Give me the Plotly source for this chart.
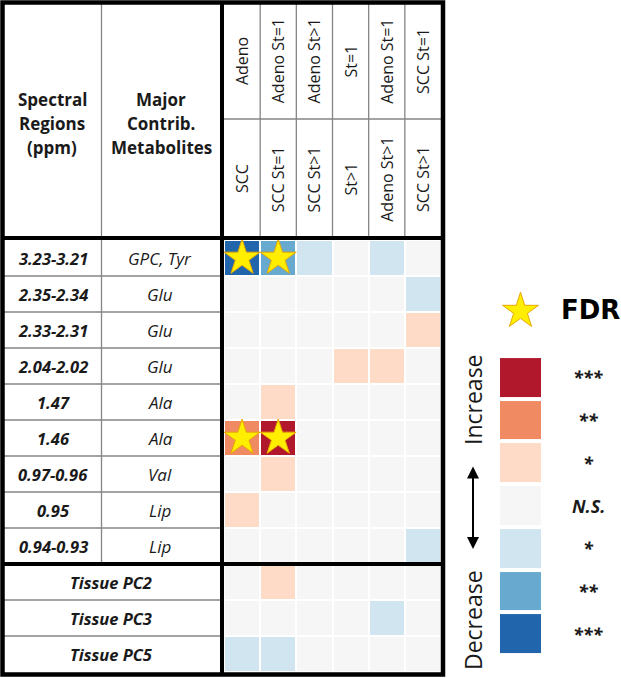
import plotly.graph_objects as go

W, H = 621, 678

# ---- data ----
regions = ["3.23-3.21", "2.35-2.34", "2.33-2.31", "2.04-2.02", "1.47", "1.46",
           "0.97-0.96", "0.95", "0.94-0.93", "Tissue PC2", "Tissue PC3", "Tissue PC5"]
metabolites = ["GPC, Tyr", "Glu", "Glu", "Glu", "Ala", "Ala", "Val", "Lip", "Lip", "", "", ""]
group_a = ["Adeno", "Adeno St=1", "Adeno St>1", "St=1", "Adeno St=1", "SCC St=1"]
group_b = ["SCC", "SCC St=1", "SCC St>1", "St>1", "Adeno St>1", "SCC St>1"]
comparisons = [f"{a} vs {b}" for a, b in zip(group_a, group_b)]

# significance level: + increase, - decrease (1=*, 2=**, 3=***)
levels = [
    [-3, -2, -1, 0, -1, 0],
    [0, 0, 0, 0, 0, -1],
    [0, 0, 0, 0, 0, 1],
    [0, 0, 0, 1, 1, 0],
    [0, 1, 0, 0, 0, 0],
    [2, 3, 0, 0, 0, 0],
    [0, 1, 0, 0, 0, 0],
    [1, 0, 0, 0, 0, 0],
    [0, 0, 0, 0, 0, -1],
    [0, 1, 0, 0, 0, 0],
    [0, 0, 0, 0, -1, 0],
    [-1, -1, 0, 0, 0, 0],
]
fdr = [
    [1, 1, 0, 0, 0, 0],
    [0] * 6, [0] * 6, [0] * 6, [0] * 6,
    [1, 1, 0, 0, 0, 0],
    [0] * 6, [0] * 6, [0] * 6, [0] * 6, [0] * 6, [0] * 6,
]
legend_levels = [3, 2, 1, 0, -1, -2, -3]
legend_labels = ["***", "**", "*", "N.S.", "*", "**", "***"]
level_colors = ["#2166ac", "#67a9cf", "#d1e5f0", "#f6f6f6", "#fddbc7", "#ef8a62", "#b2182b"]


def px(x):
    return x / W


def py(y):
    return 1 - y / H


colorscale = []
for i, c in enumerate(level_colors):
    colorscale.append([i / 7, c])
    colorscale.append([(i + 1) / 7, c])

FONT = "Open Sans"
TXT = "#1a1a1a"
fig = go.Figure()

fig.add_trace(go.Heatmap(
    z=levels, x=comparisons, y=regions, zmin=-3.5, zmax=3.5,
    colorscale=colorscale, showscale=False, xgap=2, ygap=2, hoverinfo="skip",
))

star_x, star_y = [], []
for r, row in enumerate(fdr):
    for c, v in enumerate(row):
        if v:
            star_x.append(comparisons[c])
            star_y.append(regions[r])
star = dict(symbol="star", size=27, color="#ffee00", line=dict(color="#e8a800", width=1))
fig.add_trace(go.Scatter(x=star_x, y=star_y, mode="markers", marker=star, hoverinfo="skip"))

# legend colour boxes + FDR star key
fig.add_trace(go.Heatmap(
    z=[[v] for v in legend_levels], x=[0], y=list(range(7)), zmin=-3.5, zmax=3.5,
    colorscale=colorscale, showscale=False, ygap=4, xaxis="x2", yaxis="y2", hoverinfo="skip",
))
fig.add_trace(go.Scatter(x=[0], y=[-1.55], mode="markers", xaxis="x2", yaxis="y2",
                         marker=star, hoverinfo="skip"))

hidden = dict(showticklabels=False, showgrid=False, zeroline=False, ticks="", showline=False)
unit = (655 - 356) / 7
fig.update_layout(
    width=W, height=H, margin=dict(l=0, r=0, t=0, b=0),
    paper_bgcolor="white", plot_bgcolor="white", showlegend=False,
    xaxis=dict(domain=[px(224), px(441)], type="category", range=[-0.5, 5.5], **hidden),
    yaxis=dict(domain=[py(672), py(240)], type="category", range=[11.5, -0.5], **hidden),
    xaxis2=dict(domain=[px(500), px(541)], range=[-0.5, 0.5], **hidden),
    yaxis2=dict(domain=[py(655), py(356 - 1.8 * unit)], range=[6.5, -2.3], **hidden),
)

shapes = []
thin = dict(color="#858585", width=1.3)
thick = dict(color="black", width=4)
# thin horizontal row lines in the label columns
for k in range(len(regions) - 1):
    if k == 8:
        continue
    shapes.append(dict(type="line", xref="paper", yref="y", x0=px(2.5), x1=px(222),
                       y0=k + 0.5, y1=k + 0.5, line=thin))
# divider between region and metabolite columns
shapes.append(dict(type="line", xref="paper", yref="paper", x0=px(101.5), x1=px(101.5),
                   y0=py(2.5), y1=py(564), line=thin))
# header column dividers and middle line
for k in range(len(comparisons) - 1):
    shapes.append(dict(type="line", xref="x", yref="paper", x0=k + 0.5, x1=k + 0.5,
                       y0=py(2.5), y1=py(238), line=thin))
shapes.append(dict(type="line", xref="paper", yref="paper", x0=px(222), x1=px(443),
                   y0=py(119), y1=py(119), line=thin))
# thick lines
shapes.append(dict(type="line", xref="paper", yref="paper", x0=px(222), x1=px(222),
                   y0=py(2.5), y1=py(674.5), line=thick))
shapes.append(dict(type="line", xref="paper", yref="paper", x0=px(2.5), x1=px(443),
                   y0=py(238), y1=py(238), line=thick))
shapes.append(dict(type="line", xref="paper", yref="y", x0=px(2.5), x1=px(443),
                   y0=8.5, y1=8.5, line=thick))
shapes.append(dict(type="rect", xref="paper", yref="paper", x0=px(2.5), x1=px(443),
                   y0=py(674.5), y1=py(2.5), line=dict(color="black", width=4.5)))
fig.update_layout(shapes=shapes)

ann = []


def note(text, **kw):
    d = dict(text=text, showarrow=False, xanchor="center", yanchor="middle")
    d.update(kw)
    ann.append(d)


hdr_font = dict(family=FONT, size=17, color=TXT)
for x0, lines in [(52, ["Spectral", "Regions", "(ppm)"]), (161, ["Major", "Contrib.", "Metabolites"])]:
    for j, line in enumerate(lines):
        note(f"<b>{line}</b>", xref="paper", yref="paper", x=px(x0), y=py(99 + 24.5 * j),
             font=hdr_font)
col_font = dict(family=FONT, size=16, color=TXT)
for c, (a, b) in enumerate(zip(group_a, group_b)):
    note(a.replace(">", "&gt;"), xref="x", yref="paper", x=c, y=py(61),
         textangle=-90, font=col_font)
    note(b.replace(">", "&gt;"), xref="x", yref="paper", x=c, y=py(179),
         textangle=-90, font=col_font)
row_font = dict(family=FONT, size=16.5, color=TXT)
for r, (reg, met) in enumerate(zip(regions, metabolites)):
    if met:
        note(f"<b><i>{reg}</i></b>", xref="paper", yref="y", x=px(53), y=r, font=row_font)
        note(f"<i>{met}</i>", xref="paper", yref="y", x=px(160), y=r,
             font=dict(family=FONT, size=17, color=TXT))
    else:
        note(f"<b><i>{reg}</i></b>", xref="paper", yref="y", x=px(111), y=r, font=row_font)

# legend texts
for i, lab in enumerate(legend_labels):
    note(f"<b><i>{lab}</i></b>", xref="paper", yref="y2", x=px(588), y=i,
         font=dict(family=FONT, size=18, color=TXT))
note("<b>FDR</b>", xref="paper", yref="paper", x=px(559), y=py(310), xanchor="left",
     font=dict(family="DejaVu Sans", size=26, color="black"))
note("Increase", xref="paper", yref="paper", x=px(473), y=py(400), textangle=-90,
     font=dict(family=FONT, size=23, color=TXT))
note("Decrease", xref="paper", yref="paper", x=px(473), y=py(620), textangle=-90,
     font=dict(family=FONT, size=23, color=TXT))
ann.append(dict(text="", xref="paper", yref="paper", x=px(473), y=py(549), axref="pixel",
                ayref="pixel", ax=0, ay=-84, showarrow=True, arrowside="end+start",
                arrowhead=2, startarrowhead=2, arrowwidth=2, arrowsize=1.2,
                startarrowsize=1.2, arrowcolor="black"))
fig.update_layout(annotations=ann)

fig.write_html("out.html", config={"displayModeBar": False},
               post_script="document.body.style.margin='0px';")
